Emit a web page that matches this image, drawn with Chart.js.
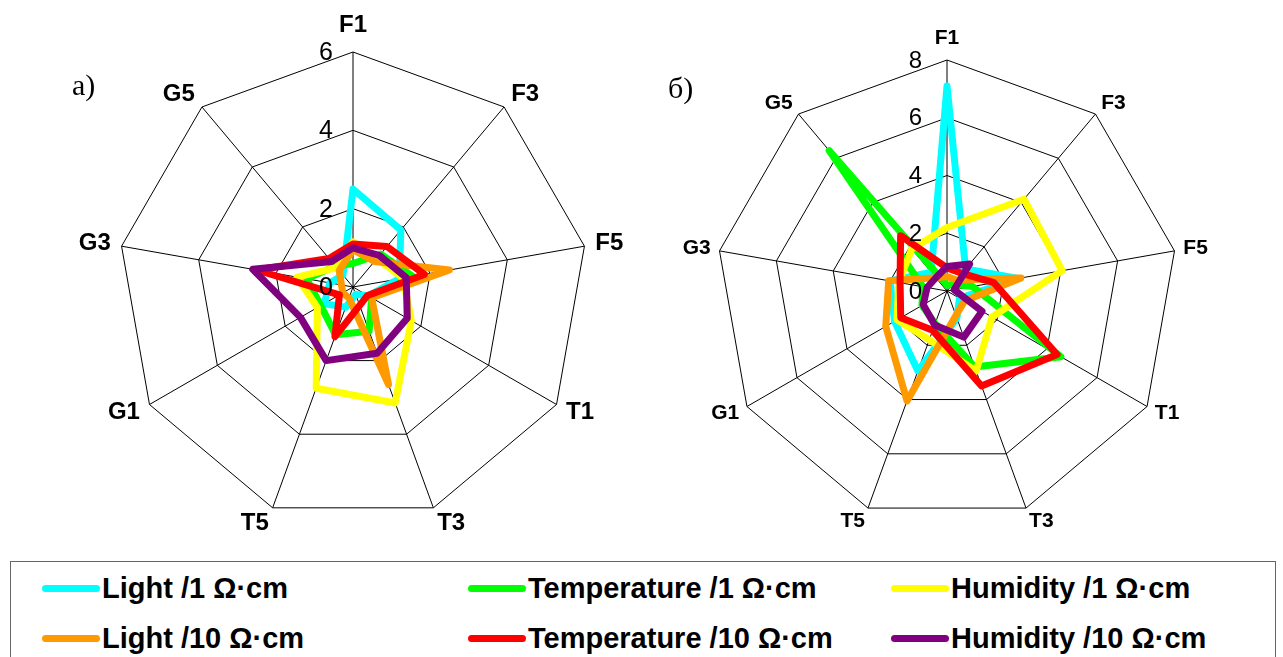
<!DOCTYPE html>
<html>
<head>
<meta charset="utf-8">
<script src="https://cdn.jsdelivr.net/npm/chart.js@4/dist/chart.umd.min.js"></script>
<style>
  html, body { margin: 0; padding: 0; background: #fff; }
  #page { position: relative; width: 1283px; height: 657px; overflow: hidden; background: #fff; }
  canvas { position: absolute; top: 0; }
  #cA { left: 0; }
  #cB { left: 640px; }
  .tag { position: absolute; font-family: "Liberation Serif", "DejaVu Serif", serif; font-size: 30px; line-height: 30px; color: #000; }
  #legend { position: absolute; left: 10px; top: 561px; width: 1266px; height: 110px; border: 1px solid #666; box-sizing: border-box; }
  .item { position: absolute; height: 30px; display: flex; align-items: center; }
  .swatch { width: 58px; height: 7px; border-radius: 4px; margin-right: 2px; }
  .txt { font-family: "Liberation Sans", Arial, sans-serif; font-weight: bold; font-size: 29px; line-height: 30px; color: #000; white-space: pre; }
</style>
</head>
<body>
<div id="page">
  <canvas id="cA" width="640" height="560"></canvas>
  <canvas id="cB" width="643" height="560"></canvas>
  <div class="tag" style="left:72px; top:70px;">а)</div>
  <div class="tag" style="left:668px; top:73px;">б)</div>
  <div id="legend"></div>
</div>
<script>
// Sensor positions around each radar
const categories = ['F1', 'F3', 'F5', 'T1', 'T3', 'T5', 'G1', 'G3', 'G5'];

// Series names and colours
const seriesNames = ['Light /1 Ω·cm', 'Temperature /1 Ω·cm', 'Humidity /1 Ω·cm',
                     'Light /10 Ω·cm', 'Temperature /10 Ω·cm', 'Humidity /10 Ω·cm'];
const seriesColors = ['#00FFFF', '#00FF00', '#FFFF00', '#FF9900', '#FF0000', '#800080'];

// Panel а)
const aLight1  = [2.5, 1.9, 1.2, 0.45, 0.2, 0.55, 0.85, 0.6, 0.4];
const aTemp1   = [0.6, 1.1, 1.55, 0.55, 1.2, 1.3, 0.95, 1.2, 0.7];
const aHum1    = [1.15, 0.95, 1.3, 1.72, 3.15, 2.75, 1.05, 1.45, 0.65];
const aLight10 = [0.95, 0.85, 2.5, 0.55, 2.65, 0.3, 0.3, 0.3, 0.55];
const aTemp10  = [1.1, 1.35, 1.85, 0.43, 0.5, 1.35, 0.4, 2.5, 0.95];
const aHum10   = [1.0, 1.05, 1.38, 1.6, 1.8, 2.0, 1.55, 2.6, 0.85];
const aTicks   = [0, 2, 4, 6];

// Panel б)
const bLight1  = [7.1, 1.0, 2.5, 0.5, 1.0, 2.95, 2.1, 2.0, 0.85];
const bTemp1   = [0.2, 0.3, 0.9, 4.55, 2.8, 1.2, 1.0, 0.85, 6.35];
const bHum1    = [2.2, 4.15, 4.05, 1.8, 2.95, 1.8, 2.0, 1.7, 1.9];
const bLight10 = [0.5, 0.5, 2.6, 0.7, 0.9, 4.05, 2.45, 2.05, 0.6];
const bTemp10  = [0.8, 0.8, 1.65, 4.4, 3.5, 1.45, 1.85, 1.65, 2.5];
const bHum10   = [0.85, 1.22, 0.25, 1.4, 1.7, 1.25, 0.95, 0.7, 0.6];
const bTicks   = [0, 2, 4, 6, 8];

// Draws the value ticks beside the F1 spoke and the category names round the rim
const radarText = {
  id: 'radarText',
  afterDraw(chart, args, o) {
    const s = chart.scales.r;
    const ctx = chart.ctx;
    ctx.save();
    ctx.fillStyle = '#000';
    ctx.font = o.tickFont;
    ctx.textAlign = 'right';
    ctx.textBaseline = 'middle';
    o.ticks.forEach(v => {
      const p = s.getPointPositionForValue(0, v);
      ctx.fillText(String(v), p.x - o.tickGap, p.y + o.tickDy);
    });
    ctx.font = o.labelFont;
    chart.data.labels.forEach((lab, i) => {
      const a = s.getIndexAngle(i);
      const sn = Math.sin(a), cs = Math.cos(a);
      const top = Math.abs(sn) < 0.05;
      const p = s.getPointPosition(i, s.drawingArea + (top ? o.topGap : o.labelGap));
      ctx.textAlign = top ? 'center' : (sn > 0 ? 'left' : 'right');
      const y = p.y - cs * (o.labelH / 2) * (top ? 1 : 0.5);
      ctx.fillText(lab, p.x, y);
    });
    ctx.restore();
  }
};

function makeRadar(id, series, ticks, pad, textOpts) {
  const datasets = series.map((d, i) => ({
    label: seriesNames[i],
    data: d,
    borderColor: seriesColors[i],
    backgroundColor: seriesColors[i],
    borderWidth: 7,
    borderJoinStyle: 'round',
    borderCapStyle: 'round',
    pointRadius: 0,
    pointHoverRadius: 0,
    fill: false,
    tension: 0,
    order: series.length - 1 - i
  }));
  return new Chart(document.getElementById(id), {
    type: 'radar',
    data: { labels: categories, datasets },
    options: {
      responsive: false,
      animation: false,
      devicePixelRatio: 1,
      layout: { padding: pad },
      plugins: {
        legend: { display: false },
        tooltip: { enabled: false },
        radarText: Object.assign({ ticks }, textOpts)
      },
      scales: {
        r: {
          min: ticks[0],
          max: ticks[ticks.length - 1],
          ticks: { stepSize: ticks[1] - ticks[0], display: false },
          pointLabels: { display: false },
          grid: { color: '#000', lineWidth: 1, circular: false },
          angleLines: { color: '#000', lineWidth: 1 }
        }
      }
    },
    plugins: [radarText]
  });
}

makeRadar('cA', [aLight1, aTemp1, aHum1, aLight10, aTemp10, aHum10], aTicks,
  { left: 118, top: 52, right: 51, bottom: 37 },
  { tickFont: '25px "Liberation Sans", Arial, sans-serif', tickGap: 20, tickDy: 1,
    labelFont: 'bold 24px "Liberation Sans", Arial, sans-serif', labelGap: 11, topGap: 16, labelH: 22 });

makeRadar('cB', [bLight1, bTemp1, bHum1, bLight10, bTemp10, bHum10], bTicks,
  { left: 76, top: 60, right: 105, bottom: 38 },
  { tickFont: '24px "Liberation Sans", Arial, sans-serif', tickGap: 25, tickDy: 1,
    labelFont: 'bold 21px "Liberation Sans", Arial, sans-serif', labelGap: 9, topGap: 12, labelH: 20 });

// Legend box below both panels: three columns, two rows
const legendCols = [31, 457, 880];
const legendRows = [11, 61];
const legend = document.getElementById('legend');
seriesNames.forEach((name, i) => {
  const item = document.createElement('div');
  item.className = 'item';
  item.style.left = legendCols[i % 3] + 'px';
  item.style.top = legendRows[Math.floor(i / 3)] + 'px';
  const sw = document.createElement('span');
  sw.className = 'swatch';
  sw.style.background = seriesColors[i];
  const tx = document.createElement('span');
  tx.className = 'txt';
  tx.textContent = name;
  item.appendChild(sw);
  item.appendChild(tx);
  legend.appendChild(item);
});
</script>
</body>
</html>
